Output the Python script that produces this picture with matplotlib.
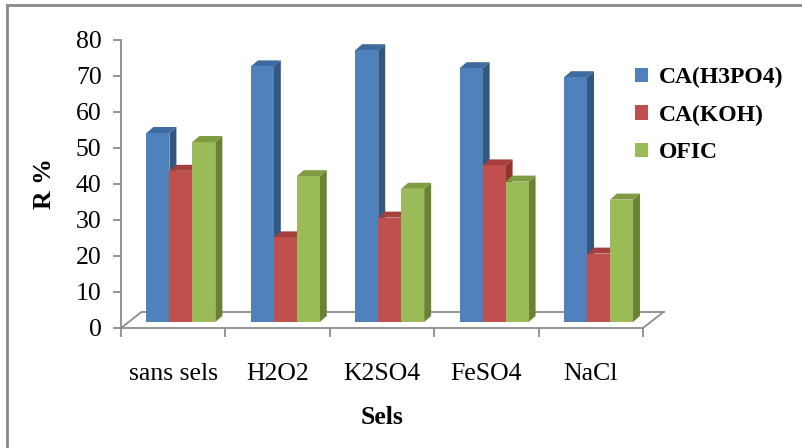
import matplotlib
matplotlib.use("Agg")
import matplotlib.pyplot as plt
from matplotlib.patches import Polygon, Rectangle, Patch
from matplotlib.lines import Line2D
from matplotlib.transforms import ScaledTranslation

# Data
categories = ["sans sels", "H2O2", "K2SO4", "FeSO4", "NaCl"]
series_names = ["CA(H3PO4)", "CA(KOH)", "OFIC"]
ca_h3po4 = [52.5, 71.0, 75.5, 70.5, 68.0]
ca_koh = [42.0, 23.5, 29.0, 43.5, 19.0]
ofic = [50.0, 40.5, 37.0, 39.0, 34.0]
y_ticks = [0, 10, 20, 30, 40, 50, 60, 70, 80]

series_values = [ca_h3po4, ca_koh, ofic]
front_colors = ["#4F81BD", "#C0504D", "#9BBB59"]
side_colors = ["#34577F", "#8E3532", "#6B8236"]
top_colors = ["#3F6A9F", "#A3403D", "#7F9C43"]

W, H, DPI = 802, 448, 100
fig = plt.figure(figsize=(W / DPI, H / DPI), dpi=DPI)
fig.patch.set_facecolor("white")

# axes frame in pixels: x 121..643, y(0)=328, y(80)=40
ax_l, ax_r, ax_b, ax_t = 121, 643, 328, 40
ax = fig.add_axes([ax_l / W, 1 - ax_b / H, (ax_r - ax_l) / W, (ax_b - ax_t) / H])
ax.set_xlim(-0.5, len(categories) - 0.5)
ax.set_ylim(0, 80)
ax.patch.set_alpha(0)

serif = "Liberation Serif"
axis_gray = "#8C8C8C"

for side in ["top", "right"]:
    ax.spines[side].set_visible(False)
ax.spines["left"].set_color(axis_gray)
ax.spines["bottom"].set_color(axis_gray)
ax.spines["left"].set_linewidth(1.3)
ax.spines["bottom"].set_linewidth(1.3)

ax.set_yticks(y_ticks)
ax.set_yticklabels([str(v) for v in y_ticks], fontfamily=serif, fontsize=18.5)
ax.tick_params(axis="y", direction="out", length=6, width=1.3, color=axis_gray, pad=8)

ax.set_xticks(range(len(categories)))
ax.set_xticklabels(categories, fontfamily=serif, fontsize=18.5)
ax.tick_params(axis="x", which="major", length=0, pad=25)
ax.set_xticks([i - 0.5 for i in range(len(categories) + 1)], minor=True)
ax.tick_params(axis="x", which="minor", direction="out", length=6.5, width=1.3, color=axis_gray)

ax.set_ylabel("R %", fontfamily=serif, fontsize=18.5, fontweight="bold", labelpad=14)
ax.set_xlabel("Sels", fontfamily=serif, fontsize=18.5, fontweight="bold", labelpad=15)

# pixel -> data scale factors
px_x = (ax_r - ax_l) / (len(categories))
px_y = (ax_b - ax_t) / 80.0

# floor parallelogram (depth 20.5 px right, 16 px up)
fdx, fdy = 20.5 / px_x, 16 / px_y
x_lo, x_hi = -0.5, len(categories) - 0.5
floor_kw = dict(color=axis_gray, lw=1.3, zorder=1, clip_on=False)
ax.plot([x_lo, x_lo + fdx], [0, fdy], **floor_kw)
ax.plot([x_hi, x_hi + fdx], [0, fdy], **floor_kw)
ax.plot([x_lo + fdx, x_hi + fdx], [fdy, fdy], **floor_kw)

# bars sit at mid depth of the floor
shift = ax.transData + ScaledTranslation(7.7 / DPI, 6 / DPI, fig.dpi_scale_trans)
bw = 0.22
ddx, ddy = 7 / px_x, 6 / px_y

z = 3
for i in range(len(categories)):
    for s, vals in enumerate(series_values):
        v = vals[i]
        x0 = i + (s - 1) * bw - bw / 2
        x1 = x0 + bw
        side = Polygon([(x1, 0), (x1 + ddx, ddy), (x1 + ddx, v + ddy), (x1, v)],
                       closed=True, facecolor=side_colors[s], edgecolor="none",
                       transform=shift, zorder=z, clip_on=False)
        top = Polygon([(x0, v), (x0 + ddx, v + ddy), (x1 + ddx, v + ddy), (x1, v)],
                      closed=True, facecolor=top_colors[s], edgecolor="none",
                      transform=shift, zorder=z, clip_on=False)
        front = Rectangle((x0, 0), bw, v, facecolor=front_colors[s], edgecolor="none",
                          transform=shift, zorder=z + 0.5, clip_on=False)
        ax.add_patch(side)
        ax.add_patch(top)
        ax.add_patch(front)
        z += 1

handles = [Patch(facecolor=c, edgecolor="none") for c in front_colors]
leg = fig.legend(handles, series_names, loc="upper left",
                 bbox_to_anchor=(635 / W, 1 - 67 / H), frameon=False,
                 prop=dict(family=serif, weight="bold", size=17),
                 handlelength=0.55, handleheight=0.55, handletextpad=0.45,
                 labelspacing=0.7, borderaxespad=0, borderpad=0)

# outer chart border (left and top edges)
border_kw = dict(color="#8A8A8A", lw=2, transform=fig.transFigure)
fig.add_artist(Line2D([7 / W, 7 / W], [0, 1 - 5.5 / H], **border_kw))
fig.add_artist(Line2D([7 / W, 1], [1 - 5.5 / H, 1 - 5.5 / H], **border_kw))

fig.savefig("out.png", dpi=DPI, facecolor="white")
